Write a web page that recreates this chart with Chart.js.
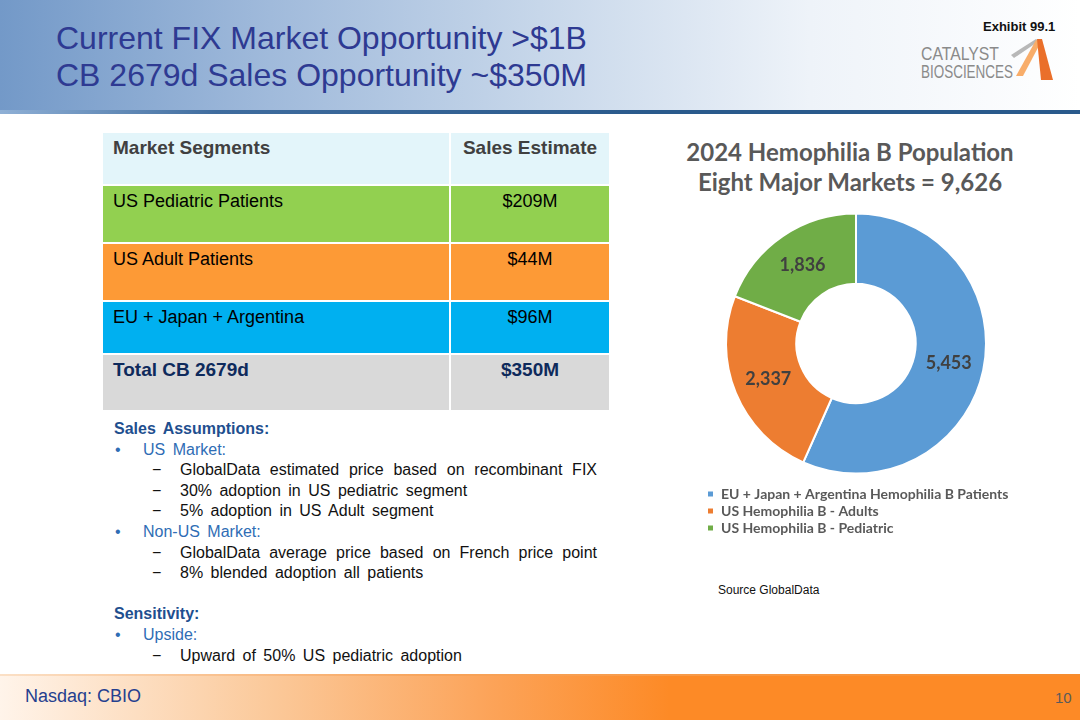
<!DOCTYPE html>
<html>
<head>
<meta charset="utf-8">
<script src="https://cdn.jsdelivr.net/npm/chart.js@4"></script>
<style>
  html, body { margin: 0; padding: 0; }
  body { width: 1080px; height: 720px; position: relative; overflow: hidden; background: #fff; font-family: "Liberation Sans", Arial, sans-serif; }
  .header { position: absolute; left: 0; top: 0; width: 1080px; height: 111px;
    background: linear-gradient(90deg, #7399c8 0%, #a0badb 25%, #c7d7ea 50%, #eef3f9 75%, #ffffff 100%); }
  .header-line { position: absolute; left: 0; top: 110px; width: 1080px; height: 4px;
    background: linear-gradient(90deg, #8fb0d6 0%, #3f6c9e 20%, #2a5a8c 60%, #2a5a8c 100%); }
  .title { position: absolute; left: 56px; top: 20px; color: #2e3a92; font-size: 32px; line-height: 37px; }
  .exhibit { position: absolute; left: 983px; top: 19px; font-size: 13px; font-weight: bold; color: #111; }
  .logo { position: absolute; left: 915px; top: 36px; }
  table.seg { position: absolute; left: 103px; top: 133px; border-collapse: separate; border-spacing: 0; }
  table.seg td { padding: 5px 10px 0 10px; vertical-align: top; font-size: 18px; border-bottom: 2px solid #fff; box-sizing: border-box; }
  table.seg td.c1 { width: 348px; border-right: 2px solid #fff; }
  table.seg td.c2 { width: 158px; text-align: center; }
  table.seg td.hd { font-weight: bold; color: #404040; font-size: 19px; padding-top: 4px; }
  table.seg td.tot { font-weight: bold; color: #0e2a5c; font-size: 19px; padding-top: 4px; }
  .footer { position: absolute; left: 0; top: 676px; width: 1080px; height: 44px;
    background: linear-gradient(90deg, #fff4ea 0%, #fbc99a 25%, #fca45a 45%, #fd8a26 62%, #fd8a26 100%); }
  .footer-line { position: absolute; left: 0; top: 674px; width: 1080px; height: 3px;
    background: linear-gradient(90deg, #fbe0c6 0%, #f7a35a 40%, #f68c2e 100%); }
  .nasdaq { position: absolute; left: 25px; top: 686px; font-size: 18px; color: #25408f; }
  .pageno { position: absolute; left: 1055px; top: 689px; font-size: 15px; color: #5a5a5a; }
  .notes { position: absolute; left: 114px; top: 419px; font-size: 16px; line-height: 20.6px; color: #111; }
  .notes .h { color: #1f4f8f; font-weight: bold; word-spacing: 3px; }
  .notes .b { position: relative; padding-left: 29px; color: #2f6db5; word-spacing: 3px; }
  .notes .b::before { content: "\2022"; position: absolute; left: 1px; color: #2f6db5; }
  .notes .d { position: relative; padding-left: 66px; word-spacing: 3px; }
  .notes .d::before { content: "\2212"; position: absolute; left: 38px; }
  .notes .j { width: 417px; text-align: justify; text-align-last: justify; }
  .ctitle { position: absolute; left: 640px; top: 137px; width: 420px; text-align: center; font-family: Lato, "Open Sans", sans-serif; font-weight: bold; font-size: 24px; line-height: 30px; color: #595959; }
  .source { position: absolute; left: 718px; top: 583px; font-size: 12px; color: #111; }
  #chartWrap { position: absolute; left: 704px; top: 200px; width: 304px; height: 345px; }
</style>
</head>
<body>
<div class="header"></div>
<div class="header-line"></div>
<div class="title">Current FIX Market Opportunity &gt;$1B<br>CB 2679d Sales Opportunity ~$350M</div>
<div class="exhibit">Exhibit 99.1</div>
<svg class="logo" width="145" height="48" viewBox="0 0 145 48">
  <text x="6" y="23.5" font-family="Liberation Sans Narrow, Liberation Sans, Arial" font-size="18" fill="#8a8a8a" textLength="78" lengthAdjust="spacingAndGlyphs">CATALYST</text>
  <text x="6" y="41.5" font-family="Liberation Sans Narrow, Liberation Sans, Arial" font-size="18" fill="#8a8a8a" textLength="92" lengthAdjust="spacingAndGlyphs">BIOSCIENCES</text>
  <polygon points="96,19 121,3 124,5 99,22" fill="#b8b8b8"/>
  <polygon points="101,40 121,4 126,6 108,40" fill="#f8ad6a"/>
  <polygon points="122,3 127,3 138,44 126,44" fill="#ea6f2a"/>
</svg>

<table class="seg">
  <tr style="height:53px; background:#e3f5fa;"><td class="c1 hd">Market Segments</td><td class="c2 hd">Sales Estimate</td></tr>
  <tr style="height:58px; background:#92d050;"><td class="c1">US Pediatric Patients</td><td class="c2">$209M</td></tr>
  <tr style="height:58px; background:#fd9a36;"><td class="c1">US Adult Patients</td><td class="c2">$44M</td></tr>
  <tr style="height:53px; background:#00b0f0;"><td class="c1">EU + Japan + Argentina</td><td class="c2">$96M</td></tr>
  <tr style="height:57px; background:#d9d9d9;"><td class="c1 tot">Total CB 2679d</td><td class="c2 tot">$350M</td></tr>
</table>

<div class="notes">
  <div class="h">Sales Assumptions:</div>
  <div class="b">US Market:</div>
  <div class="d"><div class="j">GlobalData estimated price based on recombinant FIX</div></div>
  <div class="d">30% adoption in US pediatric segment</div>
  <div class="d">5% adoption in US Adult segment</div>
  <div class="b">Non-US Market:</div>
  <div class="d"><div class="j">GlobalData average price based on French price point</div></div>
  <div class="d">8% blended adoption all patients</div>
  <div>&nbsp;</div>
  <div class="h">Sensitivity:</div>
  <div class="b">Upside:</div>
  <div class="d">Upward of 50% US pediatric adoption</div>
</div>

<div class="ctitle">2024 Hemophilia B Population<br>Eight Major Markets = 9,626</div>
<div id="chartWrap"><canvas id="popChart"></canvas></div>
<div class="source">Source GlobalData</div>

<div class="footer-line"></div>
<div class="footer"></div>
<div class="nasdaq">Nasdaq: CBIO</div>
<div class="pageno">10</div>

<script>
// population by segment, 2024 (GlobalData)
const segmentLabels = [
    'EU + Japan + Argentina Hemophilia B Patients',
    'US Hemophilia B - Adults',
    'US Hemophilia B - Pediatric'
];
const patientCounts = [5453, 2337, 1836];
const segmentColors = ['#5b9bd5', '#ed7d31', '#70ad47'];

// draw the value labels in the middle of each ring slice
const sliceLabels = {
    id: 'sliceLabels',
    afterDatasetsDraw(chart) {
        const ctx = chart.ctx;
        const meta = chart.getDatasetMeta(0);
        ctx.save();
        ctx.font = 'bold 18px Lato, "Open Sans", sans-serif';
        ctx.fillStyle = '#404040';
        ctx.textAlign = 'center';
        ctx.textBaseline = 'middle';
        meta.data.forEach((arc, i) => {
            const pos = arc.tooltipPosition();
            ctx.fillText(patientCounts[i].toLocaleString('en-US'), pos.x, pos.y);
        });
        ctx.restore();
    }
};

const ctx = document.getElementById('popChart').getContext('2d');
new Chart(ctx, {
    type: 'doughnut',
    data: {
        labels: segmentLabels,
        datasets: [{
            data: patientCounts,
            backgroundColor: segmentColors,
            borderColor: '#ffffff',
            borderWidth: 2,
            radius: 130,
            cutout: 64
        }]
    },
    options: {
        responsive: true,
        maintainAspectRatio: false,
        animation: false,
        layout: { padding: { top: 3 } },
        plugins: {
            legend: {
                position: 'bottom',
                align: 'start',
                labels: {
                    boxWidth: 7,
                    boxHeight: 7,
                    padding: 3,
                    color: '#595959',
                    font: { family: 'Lato, "Open Sans", sans-serif', weight: 'bold', size: 14 }
                }
            },
            tooltip: { enabled: false }
        }
    },
    plugins: [sliceLabels]
});
</script>
</body>
</html>
